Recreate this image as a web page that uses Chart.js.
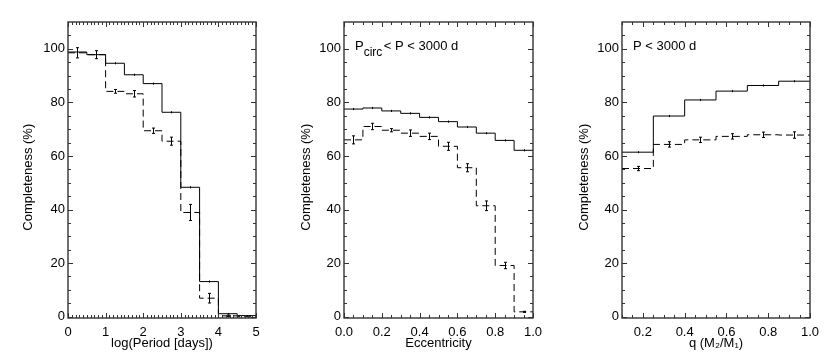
<!DOCTYPE html>
<html><head><meta charset="utf-8">
<script src="https://cdn.jsdelivr.net/npm/chart.js@4/dist/chart.umd.min.js"></script>
<style>
html,body{margin:0;padding:0;background:#fff;}
#wrap{position:relative;width:830px;height:363px;overflow:hidden;background:#fff;}
#wrap canvas{position:absolute;top:0;}
</style></head><body>
<div id="wrap">
<canvas id="c1" width="280" height="363" style="left:0px"></canvas>
<canvas id="c2" width="270" height="363" style="left:280px"></canvas>
<canvas id="c3" width="280" height="363" style="left:550px"></canvas>
</div>
<script>
// ---------- DATA ----------
// Panel 1: log(Period)
const PERIOD_EDGES = [0, 0.5, 1, 1.5, 2, 2.5, 3, 3.5, 4, 4.5, 5];
const PERIOD_ALL   = [98.8, 97.8, 94.6, 90.3, 87.0, 76.3, 48.3, 13.1, 1.1, 0.4];
const PERIOD_ALL_ERR = [0.4, 0.4, 0.4, 0.4, 0.4, 0.4, 0.4, 0.4, 0.3, 0.2];
const PERIOD_SUB   = [98.5, 97.8, 84.1, 83.2, 69.4, 65.5, 38.9, 6.9, 0.3, 0.0];
const PERIOD_SUB_ERR = [1.9, 1.5, 0.7, 1.2, 1.0, 1.5, 3.0, 1.8, 0.3, 0.0];
const PERIOD_XTICKS = [0, 1, 2, 3, 4, 5];

// Panel 2: eccentricity
const ECC_EDGES = [0, 0.1, 0.2, 0.3, 0.4, 0.5, 0.6, 0.7, 0.8, 0.9, 1.0];
const ECC_ALL   = [77.5, 77.9, 76.8, 75.9, 74.4, 72.8, 70.8, 68.5, 65.8, 62.1];
const ECC_ALL_ERR = [0.4, 0.4, 0.4, 0.4, 0.4, 0.4, 0.4, 0.4, 0.4, 0.4];
const ECC_SUB   = [66.0, 71.0, 69.6, 68.5, 67.3, 63.6, 55.6, 41.4, 19.1, 1.8];
const ECC_SUB_ERR = [1.5, 1.2, 0.6, 1.2, 1.2, 1.5, 1.5, 1.8, 1.2, 0.2];
const ECC_XTICKS = [0.0, 0.2, 0.4, 0.6, 0.8, 1.0];

// Panel 3: mass ratio q
const Q_EDGES = [0.1, 0.25, 0.4, 0.55, 0.7, 0.85, 1.0];
const Q_ALL   = [61.4, 74.9, 80.9, 84.2, 86.3, 87.9];
const Q_ALL_ERR = [0.4, 0.4, 0.4, 0.4, 0.4, 0.4];
const Q_SUB   = [55.3, 64.3, 66.0, 67.3, 67.9, 67.8];
const Q_SUB_ERR = [0.8, 1.0, 1.0, 1.0, 1.0, 1.2];
const Q_XTICKS = [0.2, 0.4, 0.6, 0.8, 1.0];

const Y_TICKS = [0, 20, 40, 60, 80, 100];
const Y_TITLE = 'Completeness (%)';

// ---------- HELPERS ----------
Chart.defaults.font.family = '"Liberation Sans", Arial, Helvetica, sans-serif';
Chart.defaults.font.size = 13;
Chart.defaults.color = '#000';

function stepData(edges, vals) {
  const d = vals.map((v, i) => ({x: edges[i], y: v}));
  d.push({x: edges[edges.length - 1], y: vals[vals.length - 1]});
  return d;
}
function range(a, b, s) { const r = []; for (let v = a; v <= b + 1e-9; v += s) r.push(+v.toFixed(4)); return r; }

const frameTicks = {
  id: 'frameTicks',
  afterDraw(chart, args, o) {
    const {ctx, chartArea: a, scales} = chart;
    const xs = scales.x, ys = scales.y;
    ctx.save();
    // error bars
    chart.data.datasets.forEach(ds => {
      const e = ds.errs; if (!e) return;
      ctx.strokeStyle = '#000'; ctx.lineWidth = 1; ctx.setLineDash([]);
      ds.vals.forEach((v, i) => {
        if (e[i] <= 0) return;
        const cx = Math.round(xs.getPixelForValue((ds.edges[i] + ds.edges[i + 1]) / 2)) + 0.5;
        const y1 = ys.getPixelForValue(v - e[i]), y2 = ys.getPixelForValue(v + e[i]);
        ctx.beginPath();
        ctx.moveTo(cx, y1); ctx.lineTo(cx, y2);
        if (ds.caps) {
          ctx.moveTo(cx - 1.5, y1); ctx.lineTo(cx + 1.5, y1);
          ctx.moveTo(cx - 1.5, y2); ctx.lineTo(cx + 1.5, y2);
        }
        ctx.stroke();
      });
    });
    // ticks
    ctx.strokeStyle = '#333'; ctx.lineWidth = 1;
    ctx.beginPath();
    const tick = (vals, len, horiz) => vals.forEach(v => {
      if (horiz) {
        const p = Math.round(xs.getPixelForValue(v)) + 0.5;
        if (p < a.left - 0.5 || p > a.right + 0.5) return;
        ctx.moveTo(p, a.bottom); ctx.lineTo(p, a.bottom - len);
        ctx.moveTo(p, a.top); ctx.lineTo(p, a.top + len);
      } else {
        const p = Math.round(ys.getPixelForValue(v)) + 0.5;
        if (p < a.top - 0.5 || p > a.bottom + 0.5) return;
        ctx.moveTo(a.left, p); ctx.lineTo(a.left + len, p);
        ctx.moveTo(a.right, p); ctx.lineTo(a.right - len, p);
      }
    });
    tick(o.xMinor, 3, true); tick(o.xMajor, 5, true);
    tick(o.yMinor, 3, false); tick(o.yMajor, 5, false);
    ctx.stroke();
    // frame
    ctx.strokeStyle = '#333'; ctx.lineWidth = 1.4;
    ctx.strokeRect(a.left, a.top, a.right - a.left, a.bottom - a.top);
    // annotation
    if (o.note) {
      ctx.fillStyle = '#000';
      ctx.textBaseline = 'alphabetic'; ctx.textAlign = 'left';
      let x = o.note.x;
      o.note.parts.forEach(p => {
        ctx.font = p.size + 'px "Liberation Sans", Arial, sans-serif';
        ctx.fillText(p.t, x, o.note.y + (p.dy || 0));
        x += ctx.measureText(p.t).width + (p.gap || 0);
      });
    }
    ctx.restore();
  }
};

function makeChart(id, c) {
  const solid = {
    data: stepData(c.edges, c.all), stepped: true, borderColor: '#000', borderWidth: 1,
    pointRadius: 0, fill: false, edges: c.edges, vals: c.all, errs: c.allErr, caps: false
  };
  const dashed = {
    data: stepData(c.edges, c.sub), stepped: true, borderColor: '#000', borderWidth: 1,
    borderDash: [7, 4], pointRadius: 0, fill: false, edges: c.edges, vals: c.sub, errs: c.subErr, caps: true
  };
  return new Chart(document.getElementById(id), {
    type: 'line',
    data: {datasets: [solid, dashed]},
    options: {
      responsive: false, animation: false, events: [],
      layout: {padding: {left: 0, right: c.rightPad, top: 22, bottom: 0}},
      plugins: {
        legend: {display: false}, tooltip: {enabled: false},
        frameTicks: {xMajor: c.xTicks, xMinor: c.xMinor, yMajor: Y_TICKS, yMinor: range(0, 105, 5), note: c.note}
      },
      scales: {
        x: {
          type: 'linear', position: 'bottom', min: c.xMin, max: c.xMax,
          grid: {display: false, drawTicks: false}, border: {display: false},
          afterBuildTicks: s => { s.ticks = c.xTicks.map(v => ({value: v})); },
          afterFit: s => { s.height = 45; },
          ticks: {padding: 7, maxRotation: 0, autoSkip: false, callback: v => c.fmt(v), font: {size: 13}},
          title: {display: true, text: c.xTitle, font: {size: 13}, padding: {top: 0, bottom: 12}}
        },
        y: {
          type: 'linear', position: 'left', min: -0.5, max: 110,
          grid: {display: false, drawTicks: false}, border: {display: false},
          afterBuildTicks: s => { s.ticks = Y_TICKS.map(v => ({value: v})); },
          afterFit: s => { s.width = c.yWidth; },
          ticks: {padding: 3, autoSkip: false, callback: v => String(v), font: {size: 13}},
          title: {display: true, text: Y_TITLE + '    ', font: {size: 13}, padding: {top: c.yTitlePad, bottom: 0}}
        }
      }
    },
    plugins: [frameTicks]
  });
}

makeChart('c1', {
  edges: PERIOD_EDGES, all: PERIOD_ALL, allErr: PERIOD_ALL_ERR, sub: PERIOD_SUB, subErr: PERIOD_SUB_ERR,
  xMin: 0, xMax: 5, xTicks: PERIOD_XTICKS, xMinor: range(0, 5, 0.1), fmt: v => String(Math.round(v)),
  xTitle: 'log(Period [days])', yWidth: 68, rightPad: 24, yTitlePad: 20.7
});
makeChart('c2', {
  edges: ECC_EDGES, all: ECC_ALL, allErr: ECC_ALL_ERR, sub: ECC_SUB, subErr: ECC_SUB_ERR,
  xMin: 0, xMax: 1, xTicks: ECC_XTICKS, xMinor: range(0, 1, 0.05), fmt: v => v.toFixed(1),
  xTitle: 'Eccentricity', yWidth: 64, rightPad: 17, yTitlePad: 18.9,
  note: {x: 75, y: 49.5, parts: [{t: 'P', size: 13}, {t: 'circ', size: 12, dy: 6, gap: 1.5}, {t: '< P < 3000 d', size: 13}]}
});
makeChart('c3', {
  edges: Q_EDGES, all: Q_ALL, allErr: Q_ALL_ERR, sub: Q_SUB, subErr: Q_SUB_ERR,
  xMin: 0.1, xMax: 1.0, xTicks: Q_XTICKS, xMinor: range(0.1, 1, 0.05), fmt: v => v.toFixed(1),
  xTitle: 'q (M\u2082/M\u2081)', yWidth: 72, rightPad: 20, yTitlePad: 26.2,
  note: {x: 83, y: 49.5, parts: [{t: 'P < 3000 d', size: 13}]}
});
</script>
</body></html>
